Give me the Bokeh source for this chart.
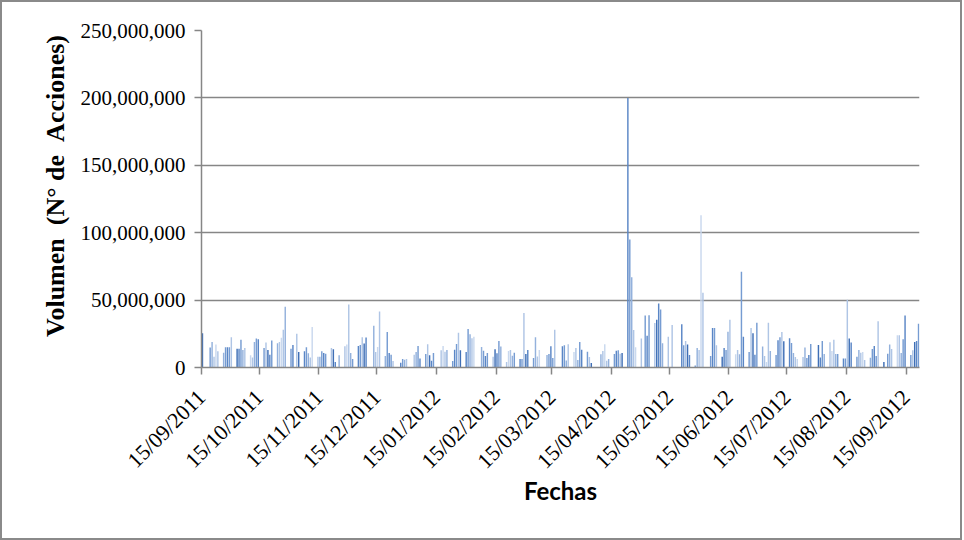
import numpy as np
import pandas as pd
from bokeh.plotting import figure
from bokeh.models import (ColumnDataSource, FixedTicker, NumeralTickFormatter,
                          DatetimeTickFormatter, Range1d)
from bokeh.embed import file_html
from bokeh.resources import INLINE

# ---- data -------------------------------------------------------------
fecha_inicio = "2011-09-15"
fecha_fin = "2012-09-21"

# Volume (millions of shares) per business day, None = no trading
volumen_millones = [
    25.5, None,
    14.75, 19, 8, 17, 12,
    11, 15, 15, 15, 22.5,
    14, 14, 20.5, 13, 14.5,
    9, 7.5, 19, 21.5, 21,
    14.5, 18.5, 13, 9.5, 20,
    18, 19, 22, 28, 45,
    14, 16.75, None, 25, 11.5,
    12, 15, 10.5, 7.5, 30,
    8, 8, 12, 10.75, 10.25,
    14.5, 13.5, 4, None, 9,
    15.75, 17, 46.75, 10.75, 6.25,
    16, 16.75, 22.5, 17.75, 22.25,
    None, 31, 11.5, 15.25, 41.5,
    8.5, 26.25, 10.75, 9.5, 4.75,
    None, 3.5, 6.25, 5.75, 6.25,
    None, 9.5, 11.5, 16, 6.75,
    10, 17.25, 9, 5, 10.75,
    None, 12.75, 16, 11.75, 13,
    4.75, 13.25, 17.5, 25.75, 12.75,
    11.5, 28.5, 24.75, 21.75, 22.75,
    None, 15.25, 12.5, 8.5, 10.75,
    8, 13.5, 10.5, 19.75, 15.5,
    4, 12.25, 13, 8.75, 11,
    6.25, 6.25, 40.5, 10, 13,
    7, 22.5, 8.25, 13, None,
    9.25, 10, 15.75, 7, 28,
    None, 15.75, 16.5, 5.25, 17.25,
    11.5, 14.5, 5.5, 19, 13.25,
    11.75, 7.75, 3.25, None, None,
    9.75, 12.25, 17.25, 5, 6.25,
    10, 12.5, 12.75, 10.25, 10.75,
    200, 95, 67, 27.75, 15,
    21.5, None, 38.5, 23.5, 38.75,
    33, 35.5, 47.5, 43, 18,
    22.75, None, 31.5, None, None,
    32, 16.5, 19.75, 17, 9.25,
    1.5, 14.5, 13, 113, 55.5,
    None, 8.5, 29.25, 29.25, 16.5,
    8, 14.5, 13, 26.5, 35.5,
    9.9, 12.9, 9.9, 71, 22.8,
    11.5, 29.25, 25.5, 9.5, 33.25,
    15.5, 8.5, 4, 33.25, 12.25,
    9.25, 20.25, 22.5, 26.25, 19.5,
    21.75, 18.25, 10.75, 7.75, 6.25,
    7.75, 14.75, 7, 9.25, 17.5,
    None, 16.75, 7.5, 19.75, 10,
    18.75, 12.25, 20.5, 10, 10,
    6.75, 6.75, 50.25, 21.5, 18.5,
    8, 13, 11, 11.5, 5.5,
    7.25, 13.75, 16, 8.5, 34.25,
    4, None, 10.25, 17, 13.75,
    24, 24, 10.75, 21, 38.5,
    9.25, 12.75, 19, 19.75, 32.5,
]

etiquetas_fechas = ["15/09/2011", "15/10/2011", "15/11/2011", "15/12/2011",
                    "15/01/2012", "15/02/2012", "15/03/2012", "15/04/2012",
                    "15/05/2012", "15/06/2012", "15/07/2012", "15/08/2012",
                    "15/09/2012"]
ticks_y = [0, 50e6, 100e6, 150e6, 200e6, 250e6]

tonos = ["#3F6FB6", "#5A86C6", "#769CD2", "#93B1DC", "#AFC5E5", "#C9D8EE"]
patron = [0, 1, 2, 3, 4, 5, 4, 3, 2, 1, 2, 4]

# ---- build ------------------------------------------------------------
dias = pd.bdate_range(fecha_inicio, fecha_fin)
assert len(dias) == len(volumen_millones), (len(dias), len(volumen_millones))
xs, tops, cols = [], [], []
for i, (d, v) in enumerate(zip(dias, volumen_millones)):
    if v is None:
        continue
    xs.append(d + pd.Timedelta(hours=12))
    tops.append(v * 1e6)
    cols.append(tonos[patron[i % len(patron)]])
src = ColumnDataSource(dict(x=xs, top=tops, color=cols))

x_start = pd.Timestamp(fecha_inicio)
x_end = pd.Timestamp(fecha_fin) + pd.Timedelta(days=1)

p = figure(width=962, height=540, x_axis_type="datetime",
           x_range=Range1d(start=x_start, end=x_end),
           y_range=Range1d(start=0, end=250e6),
           output_backend="svg", toolbar_location=None,
           min_border_left=199, min_border_right=45,
           min_border_top=28, min_border_bottom=175)
p.styles = {"border": "2px solid #8a8a8a"}
p.outline_line_color = None
p.background_fill_color = "white"
p.border_fill_color = "white"

p.vbar(x="x", top="top", bottom=0, width=0.75 * 86400000, color="color",
       line_color=None, source=src)

tick_ms = [pd.to_datetime(t, format="%d/%m/%Y").value // 10**6 for t in etiquetas_fechas]
p.xaxis.ticker = FixedTicker(ticks=tick_ms)
fmt = "%d/%m/%Y"
p.xaxis.formatter = DatetimeTickFormatter(days=fmt, months=fmt, years=fmt,
                                          hours=fmt, minutes=fmt, seconds=fmt,
                                          milliseconds=fmt, hourmin=fmt, minsec=fmt)
p.yaxis.ticker = FixedTicker(ticks=ticks_y)
p.yaxis.formatter = NumeralTickFormatter(format="0,0")

for ax in (p.xaxis[0], p.yaxis[0]):
    ax.axis_line_color = "#868686"
    ax.axis_line_width = 1.5
    ax.major_tick_line_color = "#868686"
    ax.major_tick_line_width = 1.5
    ax.major_tick_out = 7
    ax.major_tick_in = 0
    ax.minor_tick_line_color = None
    ax.major_label_text_font = "Liberation Serif"
    ax.major_label_text_color = "black"

p.yaxis.major_label_text_font_size = "21px"
p.xaxis.major_label_text_font_size = "22px"
p.xaxis.major_label_orientation = np.pi / 4
p.xaxis.major_label_standoff = 19
p.yaxis.major_label_standoff = 9

p.yaxis.axis_label = "\u00a0\u00a0\u00a0\u00a0Volumen\u00a0\u00a0(N° de\u00a0\u00a0Acciones)"
p.yaxis.axis_label_text_font = "Liberation Serif"
p.yaxis.axis_label_text_font_style = "bold"
p.yaxis.axis_label_text_font_size = "26px"
p.yaxis.axis_label_text_color = "black"
p.yaxis.axis_label_standoff = 8

p.xaxis.axis_label = "Fechas"
p.xaxis.axis_label_text_font = "Lato"
p.xaxis.axis_label_text_font_style = "bold"
p.xaxis.axis_label_text_font_size = "24px"
p.xaxis.axis_label_text_color = "black"
p.xaxis.axis_label_standoff = -9

p.xgrid.grid_line_color = None
p.ygrid.grid_line_color = "#868686"
p.ygrid.grid_line_width = 1.5

open("out.html", "w").write(file_html(p, INLINE))
